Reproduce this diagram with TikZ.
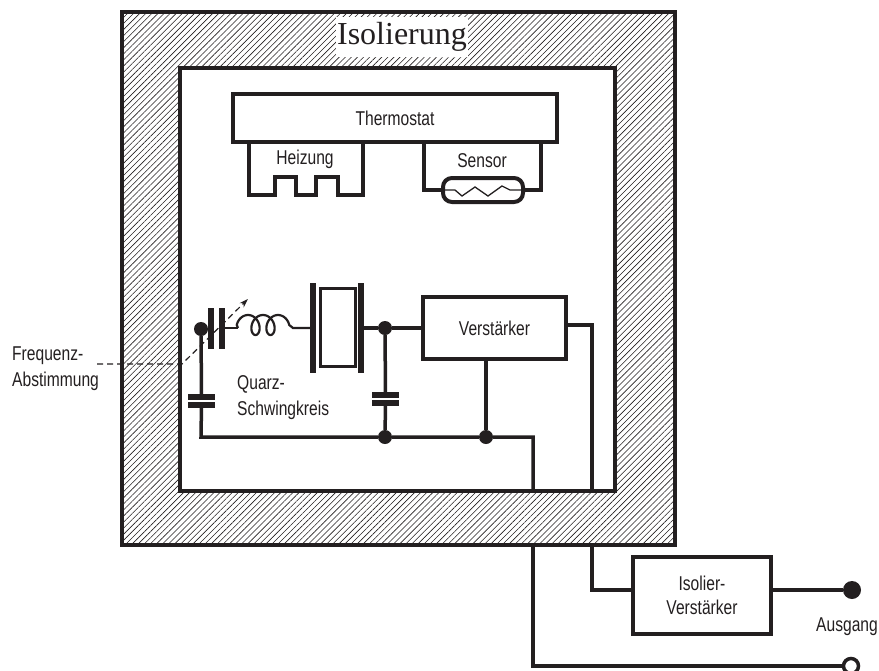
\documentclass[tikz,border=0pt]{standalone}
\usepackage{fontspec}
\setmainfont{Liberation Serif}
\newfontfamily\condfont[FakeStretch=0.78]{Liberation Sans}
\usetikzlibrary{patterns.meta,arrows.meta}
\definecolor{ink}{HTML}{231F20}
\tikzset{
  frame/.style={draw=ink,line width=4pt},
  wire/.style={draw=ink,line width=3.5pt,line join=miter},
  thin wire/.style={draw=ink,line width=2.2pt},
  label/.style={text=ink,inner sep=0pt,align=left,font=\condfont\fontsize{20}{26}\selectfont},
  block/.style={frame,fill=white,inner sep=0pt,text=ink,align=center,font=\condfont\fontsize{20}{24}\selectfont},
  dot/.style={circle,fill=ink,inner sep=0pt,minimum size=14pt},
  plate/.style={fill=ink,inner sep=0pt,minimum width=#1,minimum height=5.5pt},
  vplate/.style={fill=ink,inner sep=0pt,minimum width=5.5pt,minimum height=#1},
  hatch/.style={pattern={Lines[angle=45,distance=4.3pt,line width=.6pt]},pattern color=ink},
}
\begin{document}
\begin{tikzpicture}[x=1pt,y=-1pt]
  \useasboundingbox (0,0) rectangle (879,670);
  \draw[frame,hatch] (122,12) rectangle (675,545);
  \draw[frame,fill=white] (180,68) rectangle (615,491);
  \node[text=ink,fill=white,inner sep=0pt,minimum width=132pt,minimum height=40pt,
        font=\fontsize{32}{36}\selectfont] (isolierung) at (402,37) {Isolierung};

  \node[block,minimum width=324pt,minimum height=48pt] (thermostat) at (395,118) {Thermostat};
  \node[label] (heizung) at (305,159) {Heizung};
  \node[label] (sensor) at (482,161) {Sensor};
  \coordinate (Ha) at (249,140); \coordinate (Hb) at (363,140);
  \coordinate (Sa) at (424,140); \coordinate (Sb) at (541,140);
  \draw[wire] (Ha) -- (249,195) -- (275,195) -- (275,177) -- (296,177) -- (296,195)
       -- (316,195) -- (316,177) -- (338,177) -- (338,195) -- (363,195) -- (Hb);
  \node[frame,rounded corners=9pt,inner sep=0pt,minimum width=80pt,minimum height=24pt] (fuehler) at (483,190) {};
  \draw[wire] (Sa) |- (fuehler.west);
  \draw[wire] (Sb) |- (fuehler.east);
  \draw[ink,line width=1.3pt] (fuehler.west) -- (455,190) -- (462,196) -- (475,187)
       -- (488,196) -- (502,186) -- (510,190) -- (fuehler.east);

  \node[block,minimum width=143pt,minimum height=62pt] (verstaerker) at (494.5,328) {Verstärker};
  \node[block,minimum width=138pt,minimum height=77pt] (isolier) at (702,595) {Isolier-\\Verstärker};

  \node[vplate=41pt] (Ca) at (211,328) {}; \node[vplate=41pt] (Cb) at (222,328) {};
  \node[vplate=90pt] (Qa) at (313,328) {}; \node[vplate=90pt] (Qb) at (361,328) {};
  \node[frame,line width=3pt,inner sep=0pt,minimum width=35pt,minimum height=78pt] (quarz) at (337.5,327) {};
  \node[plate=27pt] (Da) at (201.5,397) {}; \node[plate=27pt] (Db) at (201.5,405) {};
  \node[plate=27pt] (Ea) at (385.5,395) {}; \node[plate=27pt] (Eb) at (385.5,403) {};

  \node[dot] (Ja) at (201,329) {};
  \node[dot] (Jb) at (385,328) {};
  \node[dot] (Jc) at (385,437) {};
  \node[dot] (Jd) at (486,437) {};
  \node[dot,minimum size=18pt] (ausgangA) at (852,590) {};
  \node[circle,draw=ink,fill=white,line width=3.5pt,inner sep=0pt,minimum size=15pt] (ausgangB) at (851,666) {};

  \coordinate (La) at (238,328); \coordinate (Lb) at (293,328);
  \draw[thin wire] (Cb) -- (La);
  \draw[thin wire] (La) -- plot[domain=-90:810,samples=120]
       ({248+15*\x/360+7.5*sin(\x)},{325-10*cos(\x)}) -- (Lb) -- (Qa);
  \draw[wire] (Qb) -- (Jb) -- (verstaerker);
  \draw[wire] (Ja) -- (Da);
  \draw[wire] (Jb) -- (Ea);
  \draw[wire] (Eb) -- (Jc);
  \draw[wire] (Db) -- (201,437) -- (Jc) -- (Jd) -- (533,437) -- (533,491);
  \draw[wire] (verstaerker.south -| Jd) -- (Jd);
  \draw[wire] (verstaerker.east |- 0,325) -- (592,325) -- (592,491);
  \draw[wire] (592,545) |- (isolier.west |- ausgangA);
  \draw[wire] (isolier.east |- ausgangA) -- (ausgangA);
  \draw[wire] (533,545) |- (ausgangB);

  \coordinate (Fa) at (97,364); \coordinate (Fb) at (182,364); \coordinate (Fc) at (248,299);
  \draw[ink,line width=1.2pt,dash pattern=on 6pt off 4pt,-{Stealth[length=9pt,width=6pt]}] (Fa) -- (Fb) -- (Fc);

  \node[label,anchor=west] (quarzlabel) at (237,397.5) {Quarz-\\Schwingkreis};
  \node[label,anchor=west] (frequenz) at (12,369) {Frequenz-\\Abstimmung};
  \node[label] (ausgang) at (847,627) {Ausgang};
\end{tikzpicture}
\end{document}
